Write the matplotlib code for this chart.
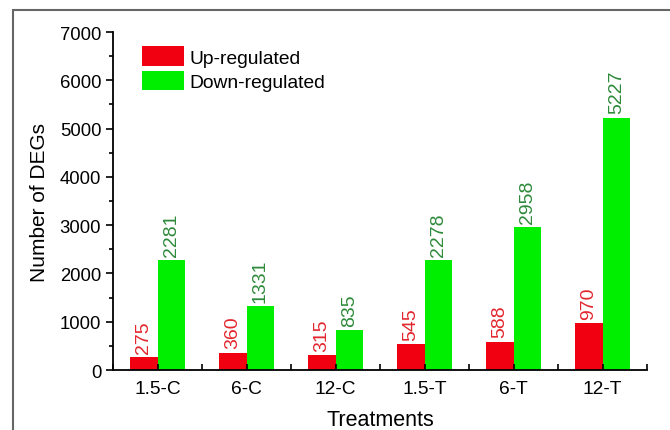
import numpy as np
import matplotlib
matplotlib.use("Agg")
import matplotlib.pyplot as plt
from matplotlib.patches import Rectangle
from matplotlib.ticker import MultipleLocator

plt.rcParams['font.family'] = ['Liberation Sans', 'DejaVu Sans']

# data
treatments = ['1.5-C', '6-C', '12-C', '1.5-T', '6-T', '12-T']
up_regulated = [275, 360, 315, 545, 588, 970]
down_regulated = [2281, 1331, 835, 2278, 2958, 5227]

fig = plt.figure(figsize=(6.7, 4.31), dpi=100)
ax = fig.add_axes([0.1687, 0.1392, 0.797, 0.7842])

# grey frame round the figure (top and left edges show)
fig.patches.append(Rectangle((13 / 670, -0.5), 2, 1 - 11 / 431 + 0.5,
                             transform=fig.transFigure, fill=False,
                             edgecolor='#666666', lw=1.5))

x = np.arange(len(treatments))
w = 0.31
ax.bar(x - w / 2, up_regulated, w, color='#f00010', label='Up-regulated')
ax.bar(x + w / 2, down_regulated, w, color='#00ee00', label='Down-regulated')

for xi, u, d in zip(x, up_regulated, down_regulated):
    ax.annotate(str(u), (xi - w / 2, u), xytext=(0, 3), textcoords='offset points',
                ha='center', va='bottom', rotation=90, fontsize=14, color='#e3262e')
    ax.annotate(str(d), (xi + w / 2, d), xytext=(0, 3), textcoords='offset points',
                ha='center', va='bottom', rotation=90, fontsize=14, color='#2e8a3a')

ax.set_xlim(-0.5, 5.5)
ax.set_ylim(0, 7000)
ax.set_xticks(x)
ax.set_xticklabels(treatments, fontsize=13.8)
ax.xaxis.set_minor_locator(MultipleLocator(1, offset=0.5))
ax.yaxis.set_major_locator(MultipleLocator(1000))
ax.yaxis.set_minor_locator(MultipleLocator(500))
ax.tick_params(axis='y', which='major', direction='out', length=5, width=1.2, labelsize=13.3)
ax.tick_params(axis='y', which='minor', direction='out', length=3, width=1.2)
ax.tick_params(axis='x', which='both', direction='in', length=4, width=1.2, labelsize=13.8, pad=7)

for s in ['top', 'right']:
    ax.spines[s].set_visible(False)
for s in ['left', 'bottom']:
    ax.spines[s].set_linewidth(1.3)

ax.set_xlabel('Treatments', fontsize=15.5, labelpad=9)
ax.set_ylabel('Number of DEGs', fontsize=15, labelpad=8)

ax.legend(loc='upper left', bbox_to_anchor=(0.04, 0.98), frameon=False,
          fontsize=13.9, handlelength=2.17, handleheight=1.17,
          handletextpad=0.26, labelspacing=0.2, borderaxespad=0)

fig.savefig('out.png', dpi=100)
